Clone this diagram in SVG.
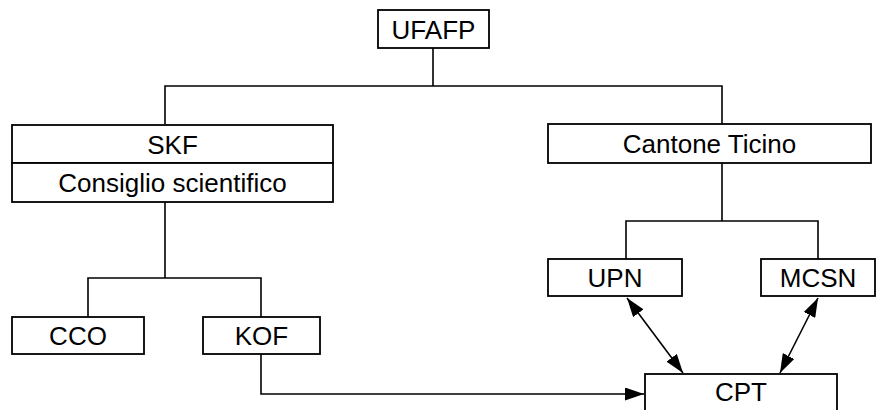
<svg xmlns="http://www.w3.org/2000/svg" width="887" height="410" viewBox="0 0 887 410">
<style>
.box{fill:#fff;stroke:#000;stroke-width:1.8}
.t{font-family:"Liberation Sans",Arial,sans-serif;font-size:26px;fill:#000;text-anchor:middle}
.c{fill:none;stroke:#000;stroke-width:1.6}
</style>
<defs>
<marker id="ah" markerUnits="userSpaceOnUse" markerWidth="20" markerHeight="13" refX="19" refY="6.5" orient="auto-start-reverse" viewBox="0 0 20 13">
<path d="M0,0 L19,6.5 L0,13 z" fill="#000"/>
</marker>
</defs>
<rect width="887" height="410" fill="#fff"/>
<g id="connectors">
<path class="c" d="M433,48 V86 M165,124 V86 H722 V124"/>
<path class="c" d="M165,202 V278 M88,317 V278 H261 V317"/>
<path class="c" d="M722,163 V221 M626,259 V221 H818 V259"/>
<path class="c" d="M261,354 V394 H644" marker-end="url(#ah)"/>
<line class="c" x1="627" y1="298" x2="683" y2="373" marker-start="url(#ah)" marker-end="url(#ah)"/>
<line class="c" x1="818" y1="298" x2="780" y2="373" marker-start="url(#ah)" marker-end="url(#ah)"/>
</g>
<g id="ufafp"><rect class="box" x="378" y="10" width="111" height="38"/><text class="t" x="433.5" y="38.5">UFAFP</text></g>
<g id="skf"><rect class="box" x="12" y="125" width="321" height="38"/><text class="t" x="172.5" y="153.5">SKF</text></g>
<g id="consiglio"><rect class="box" x="12" y="163" width="321" height="39"/><text class="t" x="172.5" y="192">Consiglio scientifico</text></g>
<g id="cantone"><rect class="box" x="548" y="124" width="323" height="39"/><text class="t" x="709.5" y="153">Cantone Ticino</text></g>
<g id="upn"><rect class="box" x="548" y="259" width="134" height="37"/><text class="t" x="615" y="287">UPN</text></g>
<g id="mcsn"><rect class="box" x="761" y="259" width="114" height="37"/><text class="t" x="818" y="287">MCSN</text></g>
<g id="cco"><rect class="box" x="12" y="317" width="132" height="37"/><text class="t" x="78" y="345">CCO</text></g>
<g id="kof"><rect class="box" x="203" y="317" width="117" height="37"/><text class="t" x="261.5" y="345">KOF</text></g>
<g id="cpt"><rect class="box" x="645" y="374" width="192" height="40"/><text class="t" x="741" y="401">CPT</text></g>
</svg>
